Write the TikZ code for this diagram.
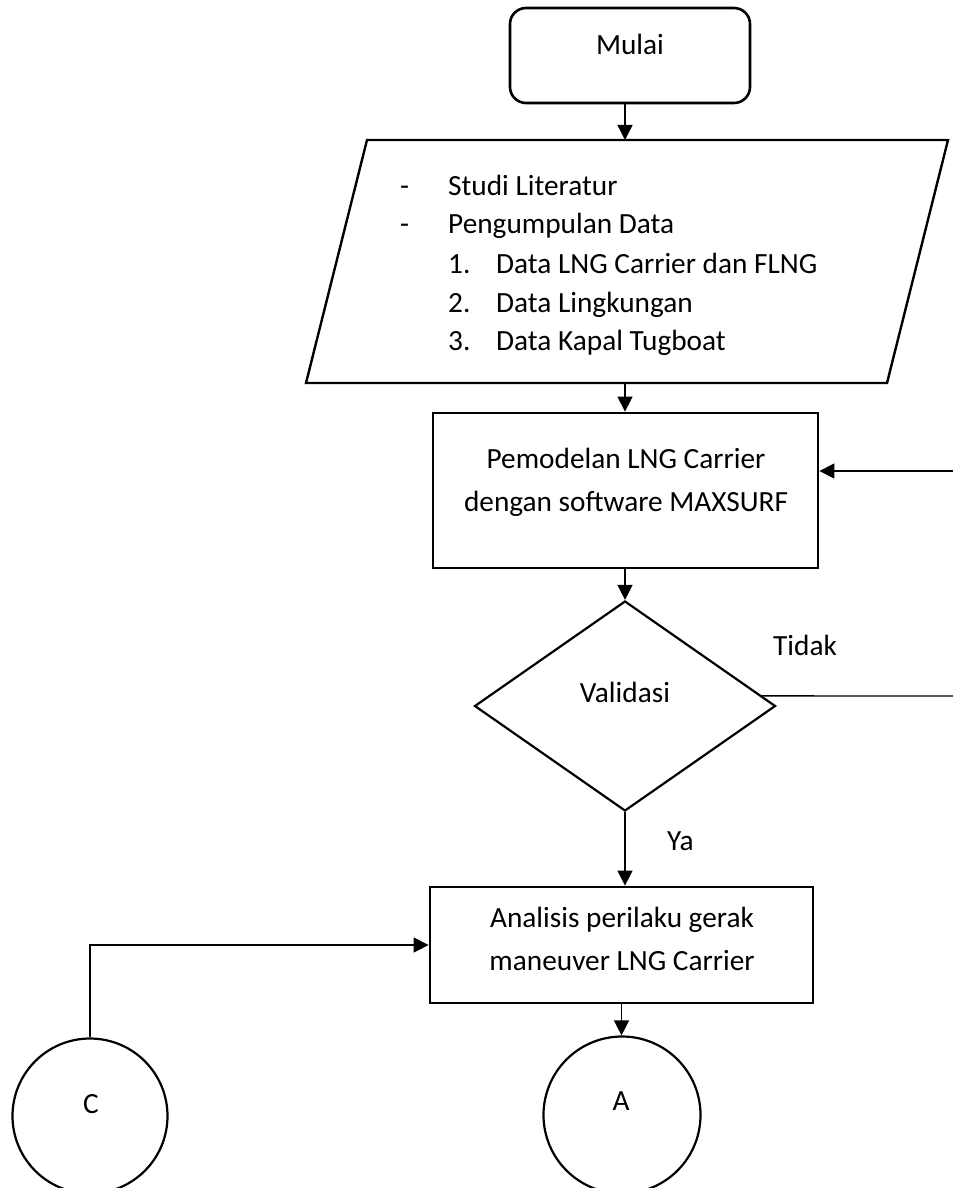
\documentclass[tikz,border=0pt]{standalone}
\usepackage{fontspec}
\setmainfont{Carlito}
\usetikzlibrary{shapes.geometric,arrows.meta,calc}
\begin{document}
\begin{tikzpicture}[x=1pt,y=-1pt,
  font=\fontsize{29.3}{38}\selectfont,
  shapebox/.style={draw,line width=2.6pt,inner sep=0pt},
  conn/.style={line width=1.4pt,-{Triangle[length=15pt,width=15pt]}},
  plain/.style={line width=1.4pt},
  txt/.style={inner sep=0pt,anchor=base},
  ltxt/.style={inner sep=0pt,anchor=base west}]
\useasboundingbox (0,0) rectangle (953,1188);
\clip (0,0) rectangle (953,1188);

% Mulai
\node[shapebox,rounded corners=16pt,minimum width=240pt,minimum height=95pt] (mulai) at (630,55.5) {};
\node[txt] (tmulai) at (630,55) {Mulai};

% input parallelogram
\coordinate (ptl) at (367,140);
\coordinate (ptr) at (948,140);
\coordinate (pbr) at (887,383);
\coordinate (pbl) at (306,383);
\draw[line width=2.4pt,line join=miter] (ptl) -- (ptr) -- (pbr) -- (pbl) -- cycle;
\coordinate (pin) at (625,140);
\coordinate (pout) at (625,383);
\node[ltxt] (d1) at (400,195) {-};
\node[ltxt] (l1) at (448,195) {Studi Literatur};
\node[ltxt] (d2) at (400,233) {-};
\node[ltxt] (l2) at (448,233) {Pengumpulan Data};
\node[ltxt] (n1) at (448,273) {1.};
\node[ltxt] (i1) at (496,273) {Data LNG Carrier dan FLNG};
\node[ltxt] (n2) at (448,312) {2.};
\node[ltxt] (i2) at (496,312) {Data Lingkungan};
\node[ltxt] (n3) at (448,350) {3.};
\node[ltxt] (i3) at (496,350) {Data Kapal Tugboat};

% Pemodelan
\node[shapebox,line width=2.8pt,minimum width=385pt,minimum height=155pt] (model) at (625.5,490.5) {};
\node[txt] (tm1) at (626,468) {Pemodelan LNG Carrier};
\node[txt] (tm2) at (626,511) {dengan software MAXSURF};

% Validasi
\node[draw,line width=2.2pt,diamond,inner sep=0pt,minimum width=301pt,minimum height=210pt] (dia) at (625,706) {};
\node[txt] (tv) at (625,702) {Validasi};
\node[ltxt] (tidak) at (773,655) {Tidak};
\node[ltxt] (ya) at (667,850) {Ya};

% Analisis
\node[shapebox,line width=2.8pt,minimum width=383pt,minimum height=116pt] (anal) at (621.5,945) {};
\node[txt] (ta1) at (622,927) {Analisis perilaku gerak};
\node[txt] (ta2) at (622,970) {maneuver LNG Carrier};

% connectors
\node[draw,circle,line width=2.2pt,minimum size=155pt,inner sep=0pt] (C) at (90,1116) {};
\node[txt] (tc) at (91,1113) {C};
\node[draw,circle,line width=2.2pt,minimum size=157pt,inner sep=0pt] (A) at (622,1115) {};
\node[txt] (tA) at (621,1110) {A};

% arrows
\draw[conn] (mulai.south -| pin) -- (pin);
\draw[conn] (pout) -- (model.north -| pout);
\draw[conn] (model.south -| dia.north) -- (dia.north);
\draw[conn] (dia.south) -- (anal.north -| dia.south);
\draw[conn] (anal.south) -- (A.north -| anal.south);
\draw[conn] (C.north) |- (anal.west);
\path (dia.east) -- (dia.north) coordinate[pos=0.095] (t0);
\coordinate (t1) at (953,696);
\coordinate (t2) at (953,471);
\draw[plain] (t0) -- (t1);
\draw[conn] (t2) -- (model.east |- t2);
\end{tikzpicture}
\end{document}
